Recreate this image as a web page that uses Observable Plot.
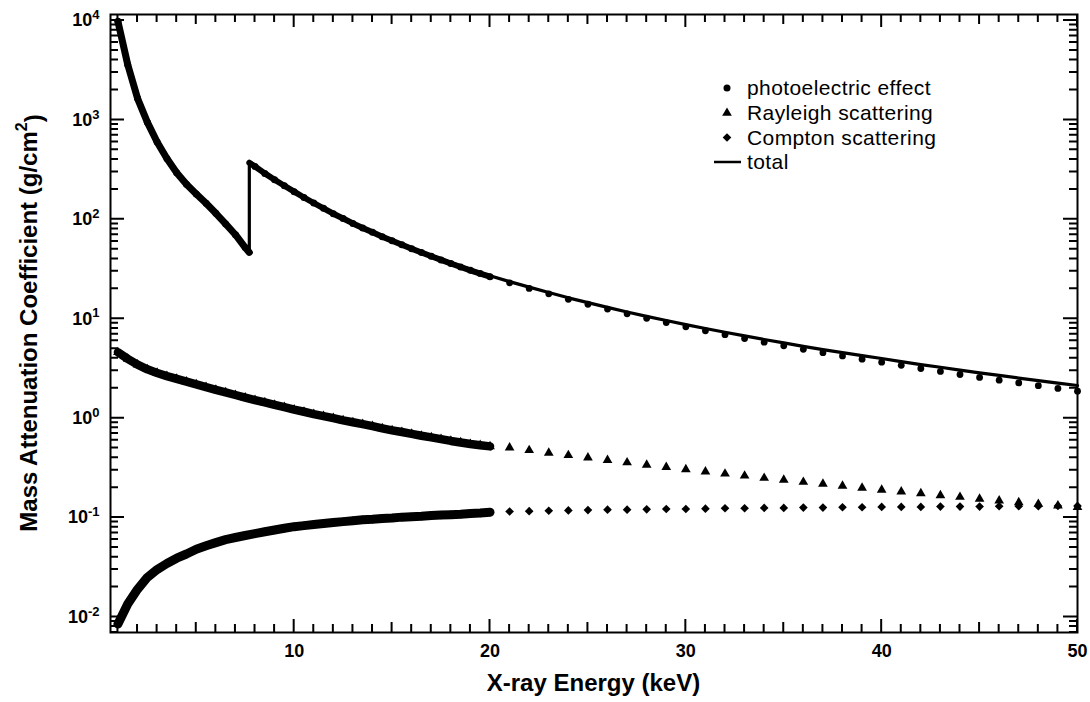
<!DOCTYPE html>
<html><head><meta charset="utf-8">
<script src="https://cdn.jsdelivr.net/npm/d3@7"></script>
<script src="https://cdn.jsdelivr.net/npm/@observablehq/plot@0.6"></script>
<style>
html,body{margin:0;padding:0;background:#fff;}
#chart{position:relative;width:1090px;height:702px;}
</style></head><body><div id="chart"></div>
<script>
// ---------- data ----------
// densely sampled region 1–20 keV
const energyDense = [1,1.5,2,2.5,3,3.5,4,4.5,5,5.5,6,6.5,7,7.5,8,8.5,9,9.5,10,10.5,11,11.5,12,12.5,13,13.5,14,14.5,15,15.5,16,16.5,17,17.5,18,18.5,19,19.5,20];
const photoDense = [9800,3600,1650,950,600,410,295,225,180,145,115,90,70,52,340,290,250,218,190,166,146,129,114,102,91,82,74,67,61,55.5,50.7,46.4,42.5,39.1,36.0,33.2,30.7,28.5,26.5];
const rayleighDense = [4.6,3.95,3.45,3.1,2.85,2.65,2.48,2.33,2.19,2.05,1.93,1.82,1.71,1.61,1.52,1.44,1.36,1.29,1.22,1.16,1.10,1.05,1.00,0.95,0.91,0.87,0.83,0.79,0.755,0.725,0.695,0.665,0.64,0.615,0.59,0.57,0.55,0.535,0.52];
const comptonDense = [0.0085,0.0135,0.019,0.025,0.030,0.0345,0.039,0.043,0.048,0.052,0.056,0.060,0.063,0.066,0.069,0.072,0.075,0.078,0.081,0.083,0.085,0.087,0.089,0.091,0.093,0.095,0.096,0.098,0.099,0.101,0.102,0.103,0.105,0.106,0.107,0.108,0.110,0.111,0.113];
const totalDense = [9805,3604,1653,953,603,413,297.5,227.4,182.2,147.1,117.0,91.9,71.8,53.7,341.6,291.5,251.4,219.4,191.3,167.2,147.2,130.1,115.1,103.0,92.0,83.0,74.9,67.9,61.9,56.3,51.5,47.2,43.2,39.8,36.7,33.9,31.4,29.1,27.1];
// K absorption edge
const edgeEnergy = 7.709;
const photoEdge = [46.5, 371];   // below, above
const totalEdge = [48.1, 372.6]; // below, above
// sparsely sampled region 21–50 keV
const energySparse = [21,22,23,24,25,26,27,28,29,30,31,32,33,34,35,36,37,38,39,40,41,42,43,44,45,46,47,48,49,50];
const photoSparse = [23.0,20.2,17.8,15.7,14.0,12.5,11.2,10.1,9.16,8.3,7.57,6.91,6.33,5.81,5.35,4.93,4.56,4.23,3.92,3.66,3.40,3.16,2.95,2.75,2.57,2.41,2.26,2.12,1.99,1.87];
const rayleighSparse = [0.505,0.475,0.448,0.423,0.400,0.378,0.358,0.339,0.321,0.305,0.290,0.276,0.263,0.250,0.239,0.228,0.218,0.208,0.199,0.190,0.182,0.175,0.167,0.161,0.154,0.148,0.142,0.137,0.132,0.127];
const comptonSparse = [0.115,0.116,0.117,0.118,0.119,0.120,0.120,0.121,0.122,0.122,0.123,0.124,0.124,0.125,0.125,0.126,0.126,0.127,0.127,0.128,0.128,0.128,0.129,0.129,0.129,0.130,0.130,0.130,0.131,0.131];
const totalSparse = [23.62,20.79,18.37,16.24,14.52,13.0,11.68,10.56,9.60,8.73,7.98,7.31,6.72,6.19,5.71,5.28,4.90,4.57,4.25,3.98,3.71,3.46,3.25,3.04,2.85,2.69,2.53,2.39,2.25,2.13];
// axes
const xDomain = [0.62, 50];
const yDomain = [0.00698, 11500];
const xLabelTicks = [10,20,30,40,50];
const yLabelTicks = [1e-2,1e-1,1e0,1e1,1e2,1e3,1e4];
const xTitle = "X-ray Energy (keV)";
const yTitleMain = "Mass Attenuation Coefficient (g/cm";
const yTitleSup = "2";
const legendItems = ["photoelectric effect","Rayleigh scattering","Compton scattering","total"];

// ---------- tables ----------
const dense = energyDense.map((e,i)=>({e, photo:photoDense[i], rayl:rayleighDense[i], comp:comptonDense[i], total:totalDense[i]}));
const sparse = energySparse.map((e,i)=>({e, photo:photoSparse[i], rayl:rayleighSparse[i], comp:comptonSparse[i], total:totalSparse[i]}));
const photoBelow = dense.filter(d=>d.e<edgeEnergy).map(d=>({e:d.e,v:d.photo})).concat([{e:edgeEnergy,v:photoEdge[0]}]);
const photoAbove = [{e:edgeEnergy,v:photoEdge[1]}].concat(dense.filter(d=>d.e>edgeEnergy).map(d=>({e:d.e,v:d.photo})));
const totalLine = dense.filter(d=>d.e<edgeEnergy).map(d=>({e:d.e,v:d.total}))
  .concat([{e:edgeEnergy,v:totalEdge[0]},{e:edgeEnergy,v:totalEdge[1]}])
  .concat(dense.filter(d=>d.e>edgeEnergy).map(d=>({e:d.e,v:d.total})))
  .concat(sparse.map(d=>({e:d.e,v:d.total})));

// tick positions
const xMinor = d3.range(1,51).filter(v=>v%5!==0);
const xMid = d3.range(5,51,10);
const yMinor = [];
for (let k=-3;k<=4;k++) for (let m=2;m<=9;m++){const v=m*Math.pow(10,k); if(v>yDomain[0]&&v<yDomain[1]) yMinor.push(v);}

const W = 1090, H = 702, ML = 110, MR = 13, MT = 14, MB = 70;
const FONT = "'Liberation Sans', Arial, Helvetica, sans-serif";

const chart = Plot.plot({
  width:W, height:H,
  marginLeft:ML, marginRight:MR, marginTop:MT, marginBottom:MB,
  style:{fontFamily:FONT, background:"#fff", color:"#000"},
  x:{type:"linear", domain:xDomain},
  y:{type:"log", domain:yDomain},
  marks:[
    Plot.axisX(xLabelTicks,{anchor:"bottom", tickSize:0, tickPadding:12, label:null, tickFormat:d=>String(d)}),
    Plot.axisY(yLabelTicks,{anchor:"left", tickSize:0, tickPadding:11, label:null, tickFormat:d=>"10^"+Math.round(Math.log10(d))}),
    // dense bands
    Plot.line(dense,{x:"e", y:"rayl", stroke:"#000", strokeWidth:8.5}),
    Plot.dot(dense,{x:"e", y:"rayl", symbol:"triangle", r:3.6, fill:"#000"}),
    Plot.line(dense,{x:"e", y:"comp", stroke:"#000", strokeWidth:9}),
    Plot.dot(dense,{x:"e", y:"comp", symbol:"diamond2", r:3.9, fill:"#000"}),
    Plot.line(photoBelow,{x:"e", y:"v", stroke:"#000", strokeWidth:7}),
    Plot.line(photoAbove,{x:"e", y:"v", stroke:"#000", strokeWidth:6}),
    Plot.dot(dense,{x:"e", y:"photo", symbol:"circle", r:3.5, fill:"#000"}),
    // sparse markers
    Plot.dot(sparse,{x:"e", y:"photo", symbol:"circle", r:3.4, fill:"#000"}),
    Plot.dot(sparse,{x:"e", y:"rayl", symbol:"triangle", r:3.6, fill:"#000"}),
    Plot.dot(sparse,{x:"e", y:"comp", symbol:"diamond2", r:3.9, fill:"#000"}),
    // total
    Plot.line(totalLine,{x:"e", y:"v", stroke:"#000", strokeWidth:3.2}),
    Plot.frame({stroke:"#000", strokeWidth:2})
  ]
});
document.getElementById("chart").appendChild(chart);

const svg = d3.select(chart);
// tick label font + superscript exponents on y tick labels
svg.selectAll("text").each(function(){
  const el = d3.select(this);
  el.style("font-size","18px").style("font-weight","bold").style("font-family",FONT);
  const m = /^10\^(-?\d+)$/.exec(this.textContent);
  if (m) {
    el.text(null);
    el.append("tspan").text("10");
    el.append("tspan").attr("dy","-0.55em").style("font-size","13px").text(m[1]);
  }
});

// inward ticks on all four sides, positioned with the plot's own scales
const sx = chart.scale("x"), sy = chart.scale("y");
const pLeft = Math.min(...sx.range), pRight = Math.max(...sx.range);
const pTop = Math.min(...sy.range), pBottom = Math.max(...sy.range);
const tg = svg.append("g").attr("stroke","#000").attr("stroke-width",2).attr("fill","none");
const xTicks = [[xMinor,8],[xMid,10],[xLabelTicks,13]];
for (const [ticks,len] of xTicks) for (const v of ticks) {
  const px = sx.apply(v);
  tg.append("path").attr("d",`M${px},${pBottom}V${pBottom-len}M${px},${pTop}V${pTop+len}`);
}
const yTicks = [[yMinor,8],[yLabelTicks,14]];
for (const [ticks,len] of yTicks) for (const v of ticks) {
  const py = sy.apply(v);
  tg.append("path").attr("d",`M${pLeft},${py}H${pLeft+len}M${pRight},${py}H${pRight-len}`);
}

// axis titles
svg.append("text").attr("x",(pLeft+pRight)/2).attr("y",691).attr("text-anchor","middle")
  .style("font-family",FONT).style("font-size","24px").style("font-weight","bold").attr("fill","#000").text(xTitle);
const ytitle = svg.append("text").attr("transform",`translate(37,${(pTop+pBottom)/2}) rotate(-90)`).attr("text-anchor","middle")
  .style("font-family",FONT).style("font-size","24px").style("font-weight","bold").attr("fill","#000");
ytitle.append("tspan").text(yTitleMain);
ytitle.append("tspan").attr("dy","-0.6em").style("font-size","16px").text(yTitleSup);
ytitle.append("tspan").attr("dy","0.6em").text(")");
// legend
const lg = svg.append("g").attr("fill","#000");
const symX = 727, textX = 747, rows = [88,113,137.5,162];
const syms = [d3.symbolCircle, d3.symbolTriangle, d3.symbolDiamond2];
const sizes = [Math.PI*3.5*3.5, Math.PI*3.6*3.6, Math.PI*3.9*3.9];
syms.forEach((s,i)=>{
  lg.append("path").attr("d", d3.symbol(s, sizes[i])()).attr("transform",`translate(${symX},${rows[i]})`).attr("fill","#000");
});
lg.append("line").attr("x1",714).attr("x2",741).attr("y1",rows[3]).attr("y2",rows[3]).attr("stroke","#000").attr("stroke-width",2.5);
legendItems.forEach((t,i)=>{
  lg.append("text").attr("x",textX).attr("y",rows[i]).attr("dy","0.35em").attr("text-anchor","start")
    .style("font-family",FONT).style("font-size","21px").style("letter-spacing","0.4px").text(t);
});
</script>
</body></html>
